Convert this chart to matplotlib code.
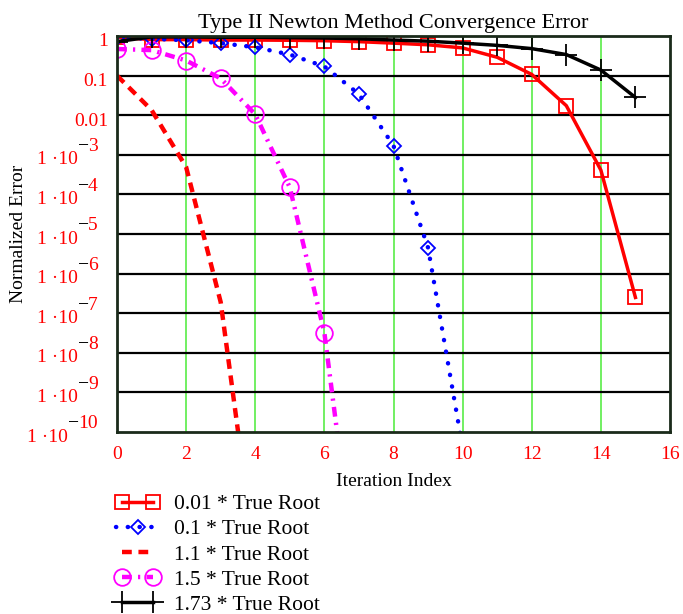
import matplotlib
matplotlib.use("Agg")
import matplotlib.pyplot as plt
from matplotlib.legend_handler import HandlerLine2D

plt.rcParams['font.family'] = ['Liberation Serif', 'DejaVu Serif']

# Iteration data (normalized error per iteration)
iters_001 = list(range(16))
err_001 = [0.93, 0.81, 0.81, 0.79, 0.79, 0.78, 0.76, 0.72, 0.66, 0.60,
           0.50, 0.29, 0.107, 0.0174, 4.1e-4, 2.5e-7]

iters_01 = list(range(11))
err_01 = [0.91, 0.85, 0.78, 0.66, 0.52, 0.34, 0.17, 0.034, 1.7e-3, 4.5e-6, 4e-11]

iters_11 = list(range(5))
err_11 = [0.1, 0.0135, 4.9e-4, 1.9e-7, 6e-14]

iters_15 = list(range(8))
err_15 = [0.47, 0.44, 0.24, 0.085, 0.0105, 1.5e-4, 3.2e-8, 5e-15]

iters_173 = list(range(16))
err_173 = [0.72, 0.95, 0.95, 0.93, 0.93, 0.91, 0.89, 0.85, 0.79, 0.74,
           0.66, 0.58, 0.48, 0.34, 0.138, 0.028]

labels = ["0.01 * True Root", "0.1 * True Root", "1.1 * True Root",
          "1.5 * True Root", "1.73 * True Root"]
x_ticks = list(range(0, 17, 2))
y_exps = list(range(0, -11, -1))

W, H = 683, 614
fig = plt.figure(figsize=(W / 100, H / 100), dpi=100)
ax = fig.add_axes([117 / W, 1 - 432 / H, 553 / W, 396 / H])

l1, = ax.plot(iters_001, err_001, color='red', lw=2.5, marker='s', ms=10,
              mfc='none', mec='red', mew=1.3, label=labels[0])
l2, = ax.plot(iters_01, err_01, color='blue', lw=3.2, ls=(0, (0.05, 2.6)),
              dash_capstyle='round', marker='D', ms=7.5, mfc='none', mec='blue',
              mew=1.3, label=labels[1])
l3, = ax.plot(iters_11, err_11, color='red', lw=3.2, ls=(0, (2.2, 1.5)),
              label=labels[2])
l4, = ax.plot(iters_15, err_15, color='magenta', lw=3.2, ls=(0, (2.2, 1.4, 0.5, 1.4)),
              marker='o', ms=12, mfc='none', mec='magenta', mew=1.3,
              label=labels[3])
l5, = ax.plot(iters_173, err_173, color='black', lw=2.5, marker='+', ms=16,
              mew=1.3, label=labels[4])

ax.set_yscale('log')
ax.set_ylim(1e-10, 1)
ax.set_xlim(0, 16)
ax.minorticks_off()

# grid: black decade lines, green vertical lines
for k in y_exps[1:-1]:
    ax.axhline(10.0 ** k, color='black', lw=1.6, zorder=0.5)
for xv in x_ticks[1:-1]:
    ax.axvline(xv, color='#66ee55', lw=1.3, zorder=0.4)
for sp in ax.spines.values():
    sp.set_linewidth(2)
    sp.set_color('#1a2a1a')

ax.tick_params(length=0)
ax.set_yticks([10.0 ** k for k in y_exps])
ax.set_yticklabels([])
ax.set_xticks(x_ticks)
ax.set_xticklabels([str(v) for v in x_ticks], color='red', fontsize=14)
ax.tick_params(axis='x', pad=10)

# Mathcad-style y tick labels
ytr = ax.get_yaxis_transform()
fs = 14
px = 0.72
for k in y_exps:
    y = 10.0 ** k
    if k >= -2:
        txt = {0: "1", -1: "0.1", -2: "0.01"}[k]
        ax.annotate(txt, xy=(0, y), xycoords=ytr, xytext=(-9 * px, -6 * px),
                    textcoords='offset points', ha='right', va='center',
                    color='red', fontsize=fs, annotation_clip=False)
    else:
        base_end = -39 if k > -10 else -49
        ax.annotate("1 \u00b710", xy=(0, y), xycoords=ytr,
                    xytext=(base_end * px, -5 * px), textcoords='offset points',
                    ha='right', va='center', color='red', fontsize=fs,
                    annotation_clip=False)
        ax.annotate("\u2212", xy=(0, y), xycoords=ytr,
                    xytext=(base_end * px, 8 * px), textcoords='offset points',
                    ha='left', va='center', color='black', fontsize=fs,
                    annotation_clip=False)
        ax.annotate(str(-k), xy=(0, y), xycoords=ytr,
                    xytext=((base_end + 10) * px, 8 * px), textcoords='offset points',
                    ha='left', va='center', color='red', fontsize=fs,
                    annotation_clip=False)

ax.set_title("Type II Newton Method Convergence Error", fontsize=16, pad=6)
ax.set_xlabel("Iteration Index", fontsize=14, labelpad=7)
ax.set_ylabel("Normalized Error", fontsize=14, labelpad=61)

handles = [l1, l2, l3, l4, l5]
fig.legend(handles, labels, loc='upper left',
           bbox_to_anchor=(116 / W, 1 - 494 / H), frameon=False,
           fontsize=15.5, numpoints=2, handlelength=2.0, handletextpad=0.7,
           labelspacing=0.24, borderpad=0, borderaxespad=0,
           handler_map={l2: HandlerLine2D(numpoints=1)})

fig.savefig("out.png", dpi=100)
